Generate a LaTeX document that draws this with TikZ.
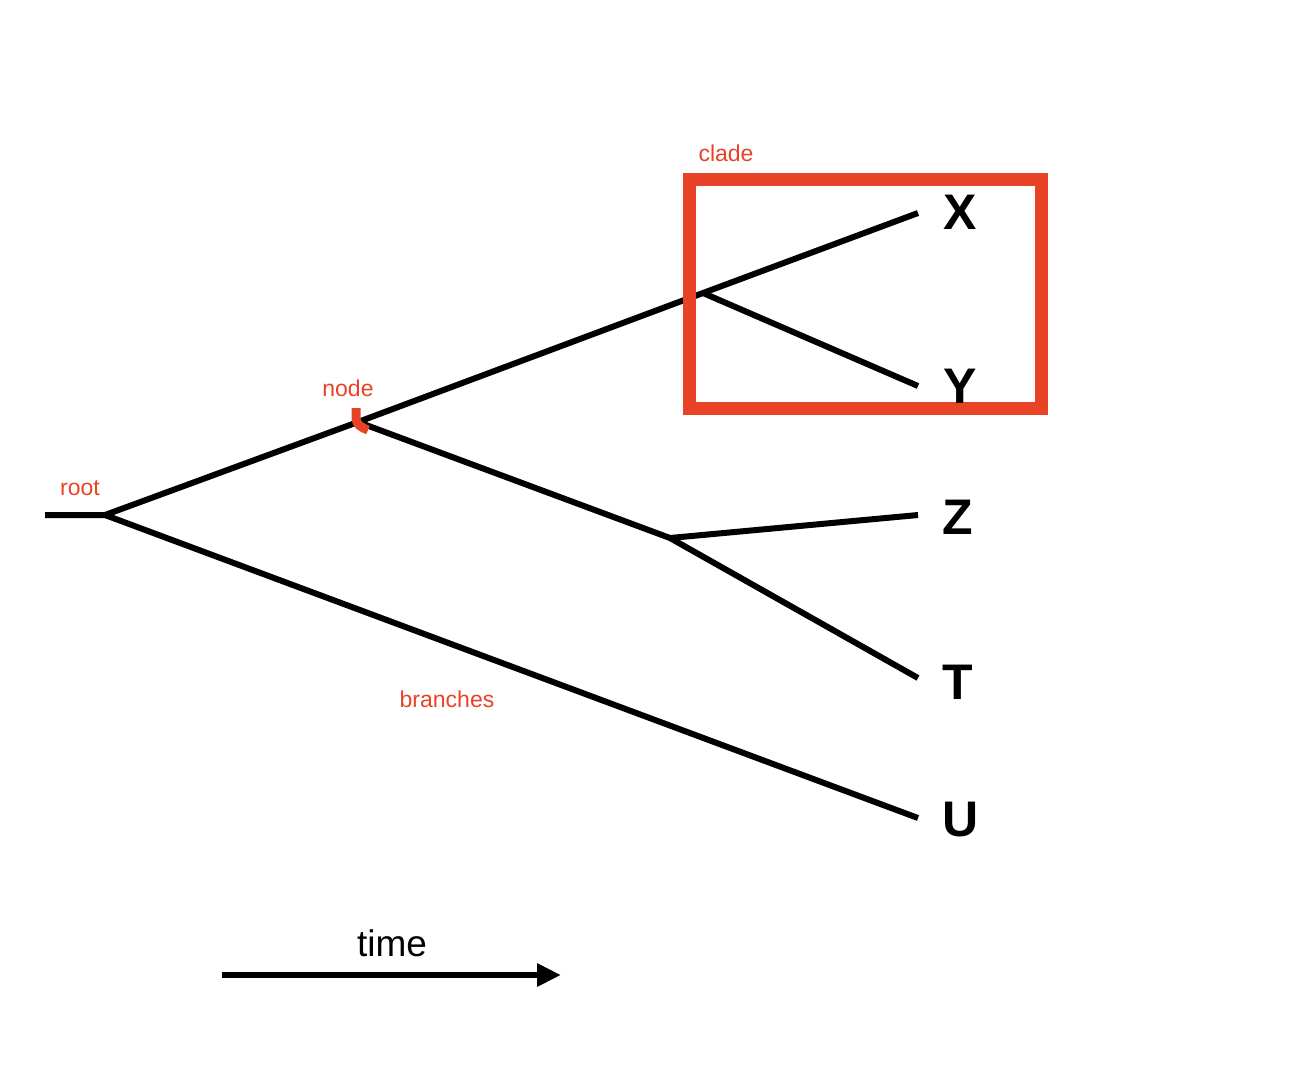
\documentclass[tikz,border=0pt]{standalone}
\usepackage{fontspec}
\setmainfont{Liberation Sans}
\usetikzlibrary{arrows.meta}
\definecolor{rd}{RGB}{232,67,39}
\begin{document}
\begin{tikzpicture}[x=1pt,y=-1pt,
  br/.style={line width=6pt,black},
  tip/.style={font=\fontsize{50}{50}\selectfont\bfseries},
  lab/.style={font=\fontsize{23}{23}\selectfont,text=rd}]
\useasboundingbox (0,0) rectangle (1316,1066);
\coordinate (r0) at (45,515);
\coordinate (root) at (105,515);
\coordinate (n1) at (358,422);
\coordinate (n2) at (703,293);
\coordinate (n3) at (670,538);
\coordinate (x) at (918,213);
\coordinate (y) at (918,386);
\coordinate (z) at (918,515);
\coordinate (t) at (918,678);
\coordinate (u) at (918,818);
\draw[br] (r0) -- (root) -- (n1) -- (n2) -- (x);
\draw[br] (n2) -- (y);
\draw[br] (n1) -- (n3) -- (z);
\draw[br] (n3) -- (t);
\draw[br] (root) -- (u);
\draw[rd,line width=13pt] (689,179) rectangle (1041,408);
\draw[rd,line width=9pt] (356,408) -- (356,418) to[out=-90,in=160] (368,430);
\node[tip] (X) at (960,212) {X};
\node[tip] (Y) at (960,386) {Y};
\node[tip] (Z) at (958,517) {Z};
\node[tip] (T) at (958,682) {T};
\node[tip] (U) at (961,820) {U};
\node[lab] (lc) at (726,153) {clade};
\node[lab] (ln) at (348,388) {node};
\node[lab] (lr) at (80,488) {root};
\node[lab] (lb) at (447,699) {branches};
\node[font=\fontsize{37}{37}\selectfont] (tm) at (392,943) {time};
\coordinate (a0) at (222,975);
\coordinate (a1) at (561,975);
\draw[line width=6pt,-{Triangle[length=24pt,width=22pt]}] (a0) -- (a1);
\end{tikzpicture}
\end{document}
